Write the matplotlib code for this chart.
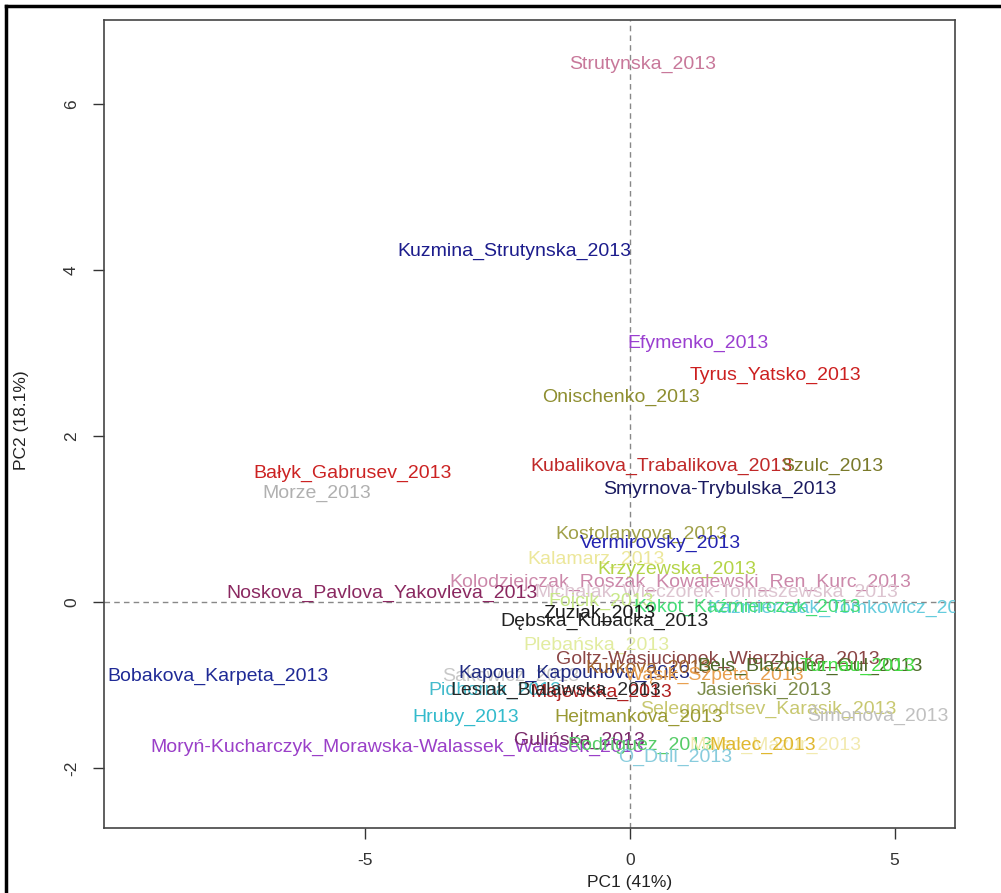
import matplotlib
matplotlib.use("Agg")
import matplotlib.pyplot as plt
from matplotlib.lines import Line2D

plt.rcParams['font.family'] = ['Liberation Sans', 'DejaVu Sans']

labels = [
    "Strutynska_2013", "Kuzmina_Strutynska_2013", "Efymenko_2013", "Tyrus_Yatsko_2013",
    "Onischenko_2013", "Bałyk_Gabrusev_2013", "Morze_2013", "Kubalikova_Trabalikova_2013",
    "Szulc_2013", "Smyrnova-Trybulska_2013", "Kostolanyova_2013", "Vermirovsky_2013",
    "Kalamarz_2013", "Krzyżewska_2013", "Kolodziejczak_Roszak_Kowalewski_Ren_Kurc_2013",
    "Michalak_Wieczorek-Tomaszewska_2013", "Noskova_Pavlova_Yakovleva_2013", "Fojcik_2013",
    "Kaźmierczak_Tomkowicz_2013", "Kokot_Kaźmierczak_2013", "Zuziak_2013", "Dębska_Kubacka_2013",
    "Plebańska_2013", "Goltz-Wasiucionek_Wierzbicka_2013", "Sakowicz_2013", "Kapoun_Kapounova_2013",
    "Kurkova_2013", "Wąsik_Szpeta_2013", "Bels_Blazquez_Gul_2013", "Turnau_2013",
    "Pidhorna_2013", "Majewska_2013", "Lesiak_Bialawska_2013", "Jasieński_2013",
    "Selegorodtsev_Karasik_2013", "Šimonova_2013", "Hruby_2013", "Hejtmankova_2013",
    "Bobakova_Karpeta_2013", "Moryń-Kucharczyk_Morawska-Walassek_Walasek_2013",
    "Gulińska_2013", "Rodríguez_2013", "Malec_Mazur_2013", "Malec_2013", "O_Dull_2013",
]

pc1 = [
    0.23, -2.19, 1.29, 2.74,
    -0.17, -5.24, -5.92, 0.59,
    3.82, 1.70, 0.21, 0.57,
    -0.64, 0.89, 0.95,
    1.63, -4.69, -0.55,
    4.05, 2.21, -0.57, -0.49,
    -0.64, 1.66, -2.25, -1.06,
    0.35, 1.60, 3.40, 4.30,
    -2.55, -0.55, -1.40, 2.53,
    2.61, 4.69, -3.10, 0.17,
    -7.79, -4.40,
    -0.95, 0.19, 2.75, 2.50, 0.85,
]

pc2 = [
    6.47, 4.22, 3.12, 2.73,
    2.46, 1.55, 1.31, 1.64,
    1.64, 1.36, 0.81, 0.71,
    0.51, 0.39, 0.24,
    0.12, 0.11, 0.01,
    -0.07, -0.06, -0.14, -0.23,
    -0.52, -0.69, -0.90, -0.86,
    -0.80, -0.88, -0.77, -0.77,
    -1.06, -1.09, -1.06, -1.06,
    -1.29, -1.35, -1.39, -1.39,
    -0.90, -1.75,
    -1.66, -1.72, -1.73, -1.73, -1.87,
]

colors = [
    "#c8789a", "#1c1c8c", "#9a3fd0", "#cc2020",
    "#8e8e30", "#cc2222", "#b0b0b0", "#c02828",
    "#7a7a2a", "#1a1a60", "#a0a048", "#2323b0",
    "#ece79a", "#b4d448", "#cc88aa",
    "#ddc4d0", "#8a2860", "#c8e888",
    "#66ccdd", "#44dd77", "#1a1a1a", "#222222",
    "#e2eca0", "#8b4545", "#c8c8c8", "#1f2a80",
    "#a0622c", "#e8a050", "#4f6a2a", "#44dd44",
    "#44bbcc", "#b02020", "#2a2a2a", "#7a8a48",
    "#c8c870", "#c0c0c0", "#33bbcc", "#999933",
    "#1f2a96", "#9a3fc8",
    "#7a2a6a", "#55cc66", "#f2eab0", "#e0b830", "#88ccdd",
]

fig = plt.figure(figsize=(10.01, 8.93), dpi=100)
ax = fig.add_axes([104/1001, 1 - 828/893, (955-104)/1001, (828-20)/893])
ax.set_xlim(-9.94, 6.14)
ax.set_ylim(-2.72, 7.01)

ax.axhline(0, color="#888888", linestyle=(0, (4, 3)), linewidth=1)
ax.axvline(0, color="#888888", linestyle=(0, (4, 3)), linewidth=1)

for lab, x, y, c in zip(labels, pc1, pc2, colors):
    ax.text(x, y, lab, color=c, fontsize=14, ha="center", va="center", clip_on=True)

ax.set_xticks([-5, 0, 5])
ax.set_yticks([-2, 0, 2, 4, 6])
ax.set_xticklabels(["-5", "0", "5"])
ax.set_yticklabels(["-2", "0", "2", "4", "6"], rotation=90, va="center")
ax.tick_params(axis="both", direction="out", length=8, width=1, colors="#333333",
               labelsize=12.5, pad=10)
for s in ax.spines.values():
    s.set_color("#444444")
    s.set_linewidth(1.2)

fig.text(630/1001, 1 - 882/893, "PC1 (41%)", fontsize=12.5, color="#222222",
         ha="center", va="center")
fig.text(22/1001, 1 - 420/893, "PC2 (18.1%)", fontsize=12.5, color="#222222",
         ha="center", va="center", rotation=90)

fig.add_artist(Line2D([5.5/1001, 5.5/1001], [0, 1 - 5.5/893], transform=fig.transFigure,
                      color="black", linewidth=2.5))
fig.add_artist(Line2D([5.5/1001, 1], [1 - 5.5/893, 1 - 5.5/893], transform=fig.transFigure,
                      color="black", linewidth=2.5))

fig.savefig("out.png", dpi=100)
